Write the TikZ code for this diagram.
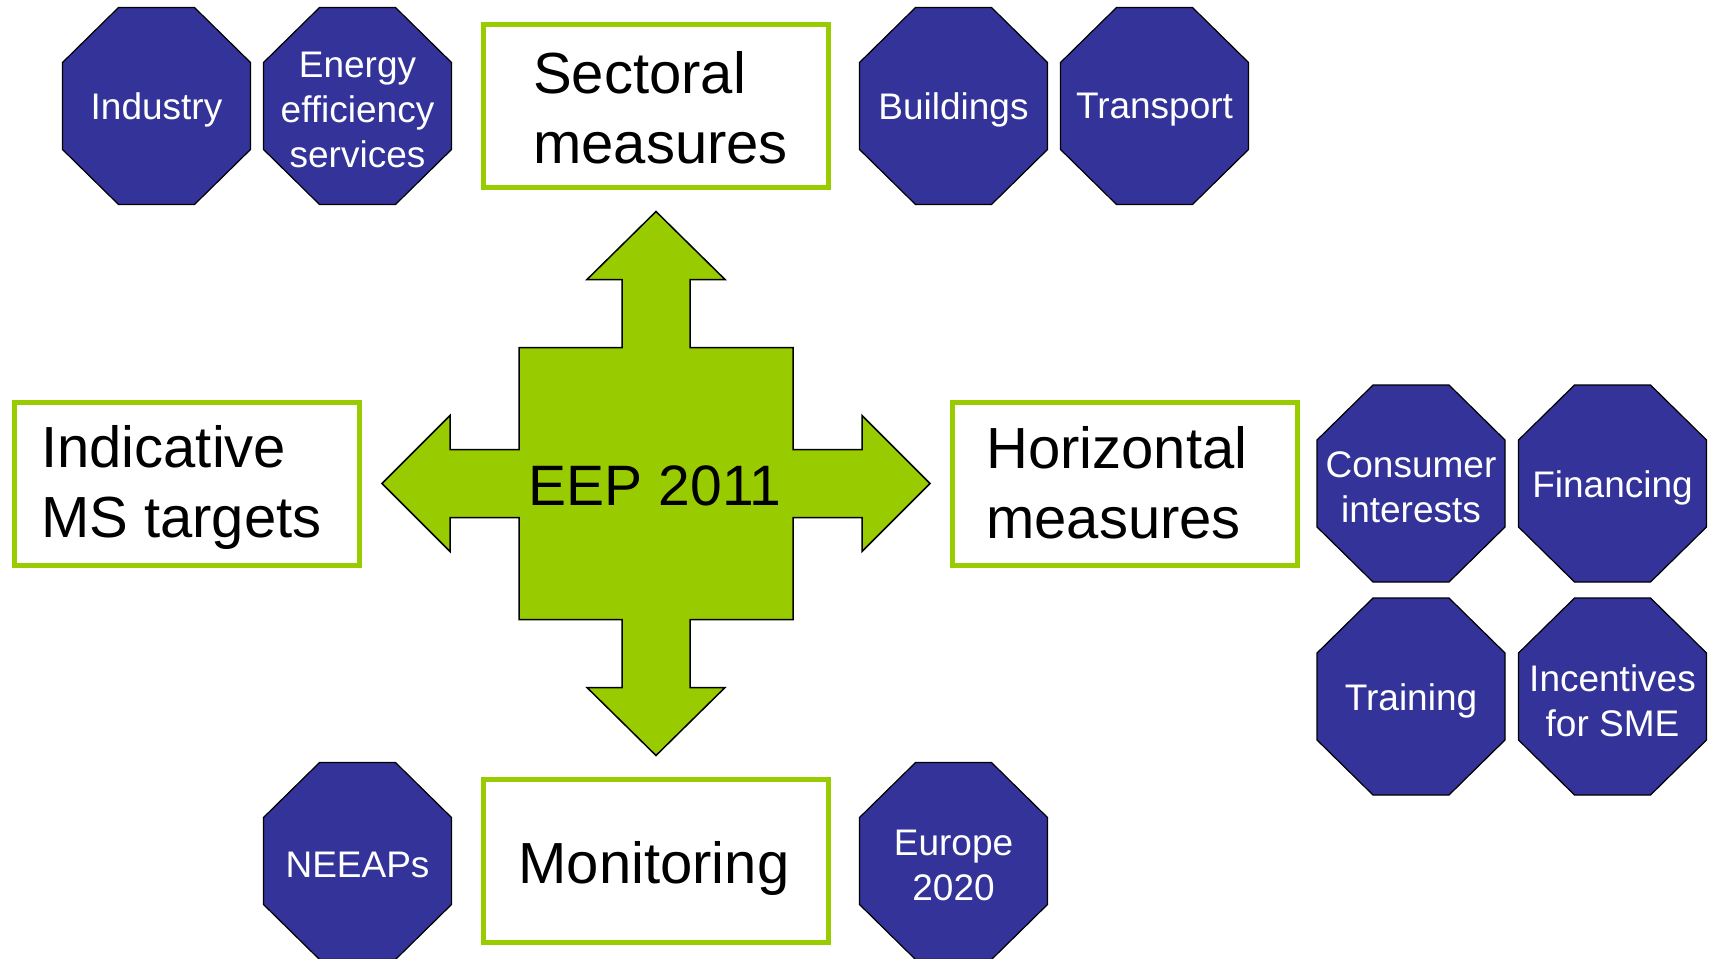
\documentclass[tikz,border=0pt]{standalone}
\usepackage{fontspec}
\setmainfont{Liberation Sans}
\definecolor{eegreen}{HTML}{99CC00}
\definecolor{eeblue}{HTML}{333399}
\tikzset{
  octshape/.style={fill=eeblue, draw=black, line width=1.2pt, line join=miter},
  octtext/.style={text=white, align=center, inner sep=0pt, yshift=-4pt, font=\fontsize{37}{45}\selectfont},
  gbox/.style={draw=eegreen, line width=5pt, fill=white, minimum width=345pt, minimum height=163pt, inner sep=0pt},
  gtext/.style={align=left, inner sep=0pt, font=\fontsize{58}{70}\selectfont, text=black},
  crossshape/.style={fill=eegreen, draw=black, line width=1.5pt, line join=miter},
  ctext/.style={inner sep=0pt, font=\fontsize{57}{68}\selectfont, text=black}
}
\newcommand{\myoct}[4]{%
  \draw[octshape, shift={(#2,#3)}] (-94,-43.5) -- (-38,-98.5) -- (38,-98.5) -- (94,-43.5) -- (94,43.5) -- (38,98.5) -- (-38,98.5) -- (-94,43.5) -- cycle;
  \node[octtext] (#1) at (#2,#3) {#4};
}
\begin{document}
\begin{tikzpicture}[x=1pt,y=-1pt]
\useasboundingbox[fill=white] (0,0) rectangle (1712,958);
% central cross
\coordinate (cc) at (656,483.5);
\draw[crossshape, shift={(cc)}] (0,-272) -- (69,-204) -- (34,-204) -- (34,-136) -- (137,-136) -- (137,-34) -- (206,-34) -- (206,-68) -- (274,0) -- (206,68) -- (206,34) -- (137,34) -- (137,136) -- (34,136) -- (34,204) -- (69,204) -- (0,272) -- (-69,204) -- (-34,204) -- (-34,136) -- (-137,136) -- (-137,34) -- (-206,34) -- (-206,68) -- (-274,0) -- (-206,-68) -- (-206,-34) -- (-137,-34) -- (-137,-136) -- (-34,-136) -- (-34,-204) -- (-69,-204) -- cycle;
\node[ctext] (eep) at (655,486) {EEP 2011};
% green boxes
\node[gbox] (sect) at (656,106) {};
\node[gtext, anchor=west] (sectT) at (533,108) {Sectoral\\measures};
\node[gbox] (indic) at (186.5,484) {};
\node[gtext, anchor=west] (indicT) at (41,487) {Indicative\\MS targets};
\node[gbox] (horiz) at (1124.5,484) {};
\node[gtext, anchor=west] (horizT) at (986,483) {Horizontal\\measures};
\node[gbox] (monit) at (656,861) {};
\node[gtext] (monitT) at (654,868) {Monitoring};
% octagons
\myoct{industry}{156.5}{106}{Industry}
\myoct{energy}{357.5}{106}{Energy\\efficiency\\services}
\myoct{buildings}{953.5}{106}{Buildings}
\myoct{transport}{1154.5}{106}{Transport}
\myoct{consumer}{1411}{483.5}{Consumer\\interests}
\myoct{financing}{1612.5}{483.5}{Financing}
\myoct{training}{1411}{696.5}{Training}
\myoct{incentives}{1612.5}{696.5}{Incentives\\for SME}
\myoct{neeaps}{357.5}{861}{NEEAPs}
\myoct{europe}{953.5}{861}{Europe\\2020}
\end{tikzpicture}
\end{document}
